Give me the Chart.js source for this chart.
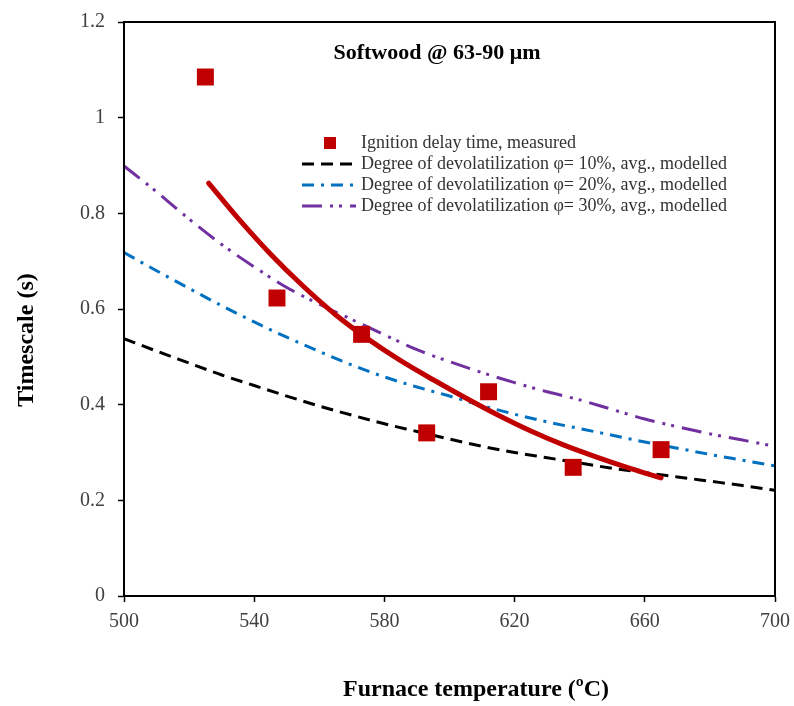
<!DOCTYPE html>
<html>
<head>
<meta charset="utf-8">
<script src="https://cdn.jsdelivr.net/npm/chart.js@4.4.0/dist/chart.umd.min.js"></script>
<style>
  html, body { margin: 0; padding: 0; background: #fff; }
  #wrap { width: 794px; height: 706px; }
</style>
</head>
<body>
<div id="wrap"><canvas id="chart"></canvas></div>
<script>
// Values.
const chartTitle = 'Softwood @ 63-90 \u03bcm';
const xTitle = 'Furnace temperature (\u00baC)';
const yTitle = 'Timescale (s)';

// measured ignition delay (red squares)
const measuredTemp = [525, 547, 573, 593, 612, 638, 665];
const measuredDelay = [1.085, 0.623, 0.547, 0.341, 0.427, 0.269, 0.306];

// red trend line through the measurements
const trendTemp = [526, 535, 545, 555, 565, 575, 585, 595, 605, 615, 625, 635, 645, 655, 665];
const trendDelay = [0.863, 0.79, 0.715, 0.648, 0.588, 0.537, 0.492, 0.452, 0.414, 0.378, 0.345, 0.316, 0.291, 0.268, 0.247];

// modelled devolatilization curves
const modelTemp = [500, 510, 520, 530, 540, 550, 560, 570, 580, 590, 600, 610, 620, 630, 640, 650, 660, 670, 680, 690, 700];
const phi10 = [0.538, 0.512, 0.487, 0.462, 0.44, 0.418, 0.397, 0.378, 0.36, 0.344, 0.328, 0.313, 0.3, 0.289, 0.278, 0.267, 0.258, 0.249, 0.24, 0.231, 0.221];
const phi20 = [0.718, 0.68, 0.643, 0.607, 0.573, 0.541, 0.511, 0.483, 0.458, 0.437, 0.418, 0.398, 0.38, 0.364, 0.35, 0.336, 0.322, 0.309, 0.296, 0.284, 0.272];
const phi30 = [0.899, 0.845, 0.788, 0.735, 0.688, 0.645, 0.61, 0.578, 0.546, 0.515, 0.49, 0.467, 0.446, 0.427, 0.41, 0.39, 0.37, 0.354, 0.339, 0.326, 0.313];

const seriesLabels = [
  'Ignition delay time, measured',
  'Degree of devolatilization \u03c6= 10%, avg., modelled',
  'Degree of devolatilization \u03c6= 20%, avg., modelled',
  'Degree of devolatilization \u03c6= 30%, avg., modelled'
];

function pairs(xs, ys) {
  return xs.map((x, i) => ({ x: x, y: ys[i] }));
}

const serif = '"Liberation Serif", "DejaVu Serif", serif';

// keep the plot box where the reference has it: no extra room for edge labels
function noEdgePadding(scale) {
  scale.paddingTop = 0;
  scale.paddingBottom = 0;
  scale.paddingLeft = 0;
  scale.paddingRight = 0;
}

// Frame, title, axis titles and the in-plot legend.
const decorPlugin = {
  id: 'decor',
  afterDraw(chart) {
    const { ctx, chartArea: a } = chart;
    const ds = chart.data.datasets;
    ctx.save();
    ctx.strokeStyle = '#000';
    ctx.lineWidth = 2;
    ctx.strokeRect(a.left, a.top, a.right - a.left, a.bottom - a.top);

    ctx.fillStyle = '#000';
    ctx.textAlign = 'center';
    ctx.textBaseline = 'middle';
    ctx.font = 'bold 22px ' + serif;
    ctx.fillText(chartTitle, 437, 53);

    ctx.font = 'bold 24px ' + serif;
    ctx.fillText(xTitle, 476, 690);

    ctx.save();
    ctx.translate(27, 340);
    ctx.rotate(-Math.PI / 2);
    ctx.font = 'bold 24px ' + serif;
    ctx.fillText(yTitle, 0, 0);
    ctx.restore();

    // legend
    const rows = [143, 164, 185, 206];
    ctx.font = '18px ' + serif;
    ctx.textAlign = 'left';
    rows.forEach((ry, i) => {
      const d = ds[i === 0 ? 0 : i + 1];
      if (i === 0) {
        ctx.fillStyle = d.backgroundColor;
        ctx.fillRect(324, ry - 6, 12, 12);
      } else {
        ctx.strokeStyle = d.borderColor;
        ctx.lineWidth = d.borderWidth;
        ctx.setLineDash(d.borderDash);
        ctx.beginPath();
        ctx.moveTo(302, ry);
        ctx.lineTo(356, ry);
        ctx.stroke();
        ctx.setLineDash([]);
      }
      ctx.fillStyle = '#333';
      ctx.fillText(seriesLabels[i], 361, ry);
    });
    ctx.restore();
  }
};

new Chart(document.getElementById('chart'), {
  type: 'line',
  data: {
    datasets: [
      {
        label: seriesLabels[0],
        data: pairs(measuredTemp, measuredDelay),
        showLine: false,
        pointStyle: 'rect',
        pointRadius: 12,
        backgroundColor: '#C00000',
        borderColor: '#C00000',
        borderWidth: 0,
        order: 0
      },
      {
        label: 'trend',
        data: pairs(trendTemp, trendDelay),
        borderColor: '#C00000',
        borderWidth: 5,
        pointRadius: 0,
        cubicInterpolationMode: 'monotone',
        borderCapStyle: 'round',
        order: 1
      },
      {
        label: seriesLabels[1],
        data: pairs(modelTemp, phi10),
        borderColor: '#000000',
        borderWidth: 3,
        borderDash: [12, 7],
        pointRadius: 0,
        cubicInterpolationMode: 'monotone',
        order: 2
      },
      {
        label: seriesLabels[2],
        data: pairs(modelTemp, phi20),
        borderColor: '#0070C0',
        borderWidth: 3,
        borderDash: [12, 7, 3, 7],
        pointRadius: 0,
        cubicInterpolationMode: 'monotone',
        order: 3
      },
      {
        label: seriesLabels[3],
        data: pairs(modelTemp, phi30),
        borderColor: '#7030A0',
        borderWidth: 3,
        borderDash: [20, 8, 3, 6, 3, 8],
        pointRadius: 0,
        cubicInterpolationMode: 'monotone',
        order: 4
      }
    ]
  },
  options: {
    responsive: true,
    maintainAspectRatio: false,
    animation: false,
    layout: { padding: { left: 0, right: 19, top: 22, bottom: 0 } },
    plugins: {
      legend: { display: false },
      tooltip: { enabled: false }
    },
    scales: {
      x: {
        type: 'linear',
        min: 500,
        max: 700,
        ticks: {
          stepSize: 40,
          padding: 8,
          color: '#404040',
          font: { family: serif, size: 20 }
        },
        grid: {
          drawOnChartArea: false,
          drawTicks: true,
          tickLength: 6,
          tickColor: '#000',
          tickWidth: 1.5
        },
        border: { color: '#000', width: 2 },
        afterFit(scale) {
          scale.height = 110;
          noEdgePadding(scale);
        }
      },
      y: {
        min: 0,
        max: 1.2,
        ticks: {
          stepSize: 0.2,
          padding: 13,
          color: '#404040',
          font: { family: serif, size: 20 },
          callback: (v) => String(Number(v.toFixed(2)))
        },
        grid: {
          drawOnChartArea: false,
          drawTicks: true,
          tickLength: 6,
          tickColor: '#000',
          tickWidth: 1.5
        },
        border: { color: '#000', width: 2 },
        afterFit(scale) {
          scale.width = 124;
          noEdgePadding(scale);
        }
      }
    }
  },
  plugins: [decorPlugin]
});
</script>
</body>
</html>
